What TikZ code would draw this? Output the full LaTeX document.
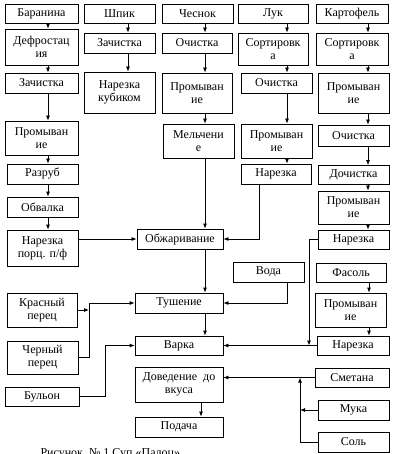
\documentclass[tikz,border=0pt]{standalone}
\usepackage{fontspec}
\setmainfont{Liberation Serif}
\usetikzlibrary{arrows.meta}

\begin{document}
\begin{tikzpicture}[
  x=1pt, y=-1pt,
  box/.style={draw, line width=0.8pt, minimum width=71pt, minimum height=20pt, inner sep=1pt, align=center, font=\fontsize{12}{13}\selectfont},
  tall/.style={minimum height=34pt},
  arrow/.style={-{Latex[length=5pt,width=4pt]}, line width=0.8pt},
  every node/.style={font=\fontsize{12}{13}\selectfont}
]
\useasboundingbox (0,0) rectangle (397,454);

% column guides
\coordinate (cA) at (48,0);
\coordinate (cB) at (128,0);
\coordinate (cC) at (205,0);
\coordinate (cD) at (287,0);
\coordinate (cE) at (368,0);
\coordinate (cF) at (369,0);

% Баранина
\node[box, minimum width=73pt, minimum height=19pt] (bar) at (41.5,13.5) {Баранина};
\node[box, minimum width=73pt, minimum height=36pt] (defr) at (41.5,47) {Дефростац\\ия};
\node[box, minimum width=73pt] (zach1) at (41.5,83) {Зачистка};
\node[box, tall, minimum width=73pt] (prom1) at (41.5,138) {Промыван\\ие};
\node[box] (razr) at (42.5,174) {Разруб};
\node[box] (obv) at (42.5,207) {Обвалка};
\node[box, minimum height=36pt] (narp) at (42.5,248) {Нарезка\\порц. п/ф};

% Специи и бульон
\node[box, tall, minimum width=70pt] (kras) at (42,310) {Красный\\перец};
\node[box, minimum height=33pt] (cher) at (42.5,357.5) {Черный\\перец};
\node[box, minimum width=74pt, minimum height=19pt] (bul) at (42,396.5) {Бульон};

% Шпик
\node[box, minimum height=19pt] (shp) at (119.5,13.5) {Шпик};
\node[box] (zach2) at (119.5,43) {Зачистка};
\node[box, minimum height=41pt] (kub) at (119.5,92.5) {Нарезка\\кубиком};

% Чеснок
\node[box, minimum height=19pt] (ches) at (197.5,13.5) {Чеснок};
\node[box, minimum width=70pt] (och1) at (197,43) {Очистка};
\node[box, minimum width=70pt, minimum height=40pt] (prom2) at (197,93) {Промыван\\ие};
\node[box, tall] (melch) at (198.5,141) {Мельчени\\е};

% Лук
\node[box, minimum width=70pt, minimum height=19pt] (luk) at (273,13.5) {Лук};
\node[box, minimum width=70pt, minimum height=32pt] (sort1) at (273,49) {Сортировк\\а};
\node[box] (och2) at (276.5,83) {Очистка};
\node[box, tall] (prom3) at (276.5,141) {Промыван\\ие};
\node[box, minimum width=70pt] (nar1) at (276,174) {Нарезка};

% Картофель
\node[box, minimum width=72pt, minimum height=19pt] (kart) at (352,13.5) {Картофель};
\node[box, minimum width=72pt, minimum height=32pt] (sort2) at (352,49) {Сортировк\\а};
\node[box, minimum height=40pt] (prom4) at (353.5,93) {Промыван\\ие};
\node[box, minimum height=21pt] (och3) at (353.5,135.5) {Очистка};
\node[box, minimum height=19pt] (doch) at (353.5,175) {Дочистка};
\node[box, minimum height=33pt] (prom5) at (353.5,207.5) {Промыван\\ие};
\node[box, minimum height=19pt] (nar2) at (353.5,239.5) {Нарезка};

% Фасоль
\node[box, minimum width=70pt, minimum height=19pt] (fas) at (351,272.5) {Фасоль};
\node[box, tall] (prom6) at (350.5,310) {Промыван\\ие};
\node[box, minimum width=72pt, minimum height=19pt] (nar3) at (353,345.5) {Нарезка};

% Сметана, мука, соль
\node[box, minimum width=74pt, minimum height=19pt] (smet) at (352,377.5) {Сметана};
\node[box] (muka) at (353.5,410) {Мука};
\node[box] (sol) at (353.5,442) {Соль};

% Основной ход
\node[box, minimum width=86pt] (obzh) at (180,239) {Обжаривание};
\node[box] (voda) at (268.5,272) {Вода};
\node[box, minimum width=88pt] (tush) at (179,303) {Тушение};
\node[box, minimum width=88pt, minimum height=19pt] (varka) at (179,345.5) {Варка};
\node[box, minimum width=88pt, minimum height=35pt] (dov) at (179,384.5) {Доведение~ до\\вкуса};
\node[box, minimum width=88pt] (pod) at (179,427) {Подача};

% Подпись
\node[anchor=base west] (cap) at (37,456) {Рисунок~ № 1 Суп «Палоц»};

% Стрелки по столбцам
\foreach \a/\b in {bar/defr, defr/zach1, zach1/prom1, prom1/razr, razr/obv, obv/narp}
  \draw[arrow] (\a.south -| cA) -- (\b.north -| cA);
\foreach \a/\b in {shp/zach2, zach2/kub}
  \draw[arrow] (\a.south -| cB) -- (\b.north -| cB);
\foreach \a/\b in {ches/och1, och1/prom2, prom2/melch, melch/obzh, obzh/tush, tush/varka}
  \draw[arrow] (\a.south -| cC) -- (\b.north -| cC);
\foreach \a/\b in {luk/sort1, sort1/och2, och2/prom3, prom3/nar1}
  \draw[arrow] (\a.south -| cD) -- (\b.north -| cD);
\foreach \a/\b in {kart/sort2, sort2/prom4, prom4/och3, och3/doch, doch/prom5, prom5/nar2}
  \draw[arrow] (\a.south -| cE) -- (\b.north -| cE);
\foreach \a/\b in {fas/prom6, prom6/nar3}
  \draw[arrow] (\a.south -| cF) -- (\b.north -| cF);
\draw[arrow] ([xshift=-4pt]dov.south -| cC) -- ([xshift=-4pt]pod.north -| cC);

% Подводящие линии
\coordinate (jL) at (259,0);
\coordinate (jP) at (89,0);
\coordinate (jB) at (105,0);
\coordinate (jK) at (309,0);
\coordinate (jS) at (300,0);

\draw[arrow] (narp.east |- obzh.west) -- (obzh.west);
\draw[arrow] (nar1.south -| jL) |- (obzh.east);
\draw[arrow] (voda.south -| cD) |- (tush.east);
\draw[arrow] (kras.east) -- (kras.east -| jP);
\draw[arrow] (cher.east) -| (jP |- tush.west) -- (tush.west);
\draw[arrow] (bul.east) -| (jB |- varka.west) -- (varka.west);
\draw[arrow] (nar3.west) -- (varka.east);
\draw[arrow] (nar2.west) -| (jK |- varka.east);
\draw[arrow] (smet.west) -- (smet.west -| dov.east);
\draw[arrow] (muka.west) -- (muka.west -| jS);
\draw[arrow] (sol.west) -| (jS |- smet.west);

\end{tikzpicture}
\end{document}
